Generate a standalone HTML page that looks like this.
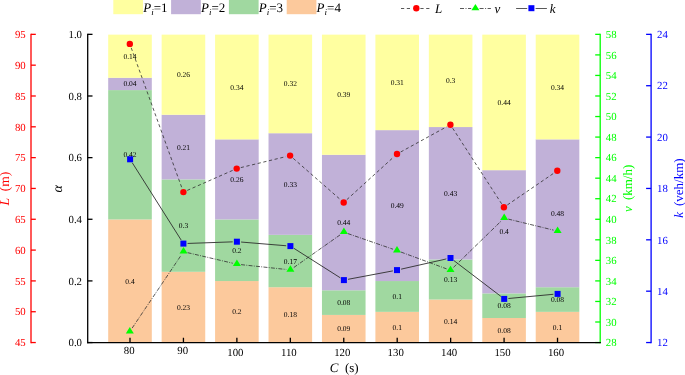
<!DOCTYPE html><html><head><meta charset="utf-8"><style>html,body{margin:0;padding:0;background:#fff}svg{display:block;will-change:transform}text{font-family:"Liberation Serif",serif;text-rendering:geometricPrecision}</style></head><body>
<svg width="685" height="375" viewBox="0 0 685 375">
<rect width="685" height="375" fill="#fff"/>
<rect x="108.20" y="219.45" width="43.60" height="123.20" fill="#FCC99C"/>
<rect x="108.20" y="90.09" width="43.60" height="129.36" fill="#A0D8A0"/>
<rect x="108.20" y="77.77" width="43.60" height="12.32" fill="#C1B1D8"/>
<rect x="108.20" y="34.65" width="43.60" height="43.12" fill="#FFFFA0"/>
<rect x="161.64" y="271.81" width="43.60" height="70.84" fill="#FCC99C"/>
<rect x="161.64" y="179.41" width="43.60" height="92.40" fill="#A0D8A0"/>
<rect x="161.64" y="114.73" width="43.60" height="64.68" fill="#C1B1D8"/>
<rect x="161.64" y="34.65" width="43.60" height="80.08" fill="#FFFFA0"/>
<rect x="215.08" y="281.05" width="43.60" height="61.60" fill="#FCC99C"/>
<rect x="215.08" y="219.45" width="43.60" height="61.60" fill="#A0D8A0"/>
<rect x="215.08" y="139.37" width="43.60" height="80.08" fill="#C1B1D8"/>
<rect x="215.08" y="34.65" width="43.60" height="104.72" fill="#FFFFA0"/>
<rect x="268.52" y="287.21" width="43.60" height="55.44" fill="#FCC99C"/>
<rect x="268.52" y="234.85" width="43.60" height="52.36" fill="#A0D8A0"/>
<rect x="268.52" y="133.21" width="43.60" height="101.64" fill="#C1B1D8"/>
<rect x="268.52" y="34.65" width="43.60" height="98.56" fill="#FFFFA0"/>
<rect x="321.96" y="314.93" width="43.60" height="27.72" fill="#FCC99C"/>
<rect x="321.96" y="290.29" width="43.60" height="24.64" fill="#A0D8A0"/>
<rect x="321.96" y="154.77" width="43.60" height="135.52" fill="#C1B1D8"/>
<rect x="321.96" y="34.65" width="43.60" height="120.12" fill="#FFFFA0"/>
<rect x="375.40" y="311.85" width="43.60" height="30.80" fill="#FCC99C"/>
<rect x="375.40" y="281.05" width="43.60" height="30.80" fill="#A0D8A0"/>
<rect x="375.40" y="130.13" width="43.60" height="150.92" fill="#C1B1D8"/>
<rect x="375.40" y="34.65" width="43.60" height="95.48" fill="#FFFFA0"/>
<rect x="428.84" y="299.53" width="43.60" height="43.12" fill="#FCC99C"/>
<rect x="428.84" y="259.49" width="43.60" height="40.04" fill="#A0D8A0"/>
<rect x="428.84" y="127.05" width="43.60" height="132.44" fill="#C1B1D8"/>
<rect x="428.84" y="34.65" width="43.60" height="92.40" fill="#FFFFA0"/>
<rect x="482.28" y="318.01" width="43.60" height="24.64" fill="#FCC99C"/>
<rect x="482.28" y="293.37" width="43.60" height="24.64" fill="#A0D8A0"/>
<rect x="482.28" y="170.17" width="43.60" height="123.20" fill="#C1B1D8"/>
<rect x="482.28" y="34.65" width="43.60" height="135.52" fill="#FFFFA0"/>
<rect x="535.72" y="311.85" width="43.60" height="30.80" fill="#FCC99C"/>
<rect x="535.72" y="287.21" width="43.60" height="24.64" fill="#A0D8A0"/>
<rect x="535.72" y="139.37" width="43.60" height="147.84" fill="#C1B1D8"/>
<rect x="535.72" y="34.65" width="43.60" height="104.72" fill="#FFFFA0"/>
<text x="130.00" y="283.55" font-size="7.5" text-anchor="middle" fill="#000">0.4</text>
<text x="130.00" y="157.27" font-size="7.5" text-anchor="middle" fill="#000">0.42</text>
<text x="130.00" y="86.43" font-size="7.5" text-anchor="middle" fill="#000">0.04</text>
<text x="130.00" y="58.71" font-size="7.5" text-anchor="middle" fill="#000">0.14</text>
<text x="183.44" y="309.73" font-size="7.5" text-anchor="middle" fill="#000">0.23</text>
<text x="183.44" y="228.11" font-size="7.5" text-anchor="middle" fill="#000">0.3</text>
<text x="183.44" y="149.57" font-size="7.5" text-anchor="middle" fill="#000">0.21</text>
<text x="183.44" y="77.19" font-size="7.5" text-anchor="middle" fill="#000">0.26</text>
<text x="236.88" y="314.35" font-size="7.5" text-anchor="middle" fill="#000">0.2</text>
<text x="236.88" y="252.75" font-size="7.5" text-anchor="middle" fill="#000">0.2</text>
<text x="236.88" y="181.91" font-size="7.5" text-anchor="middle" fill="#000">0.26</text>
<text x="236.88" y="89.51" font-size="7.5" text-anchor="middle" fill="#000">0.34</text>
<text x="290.32" y="317.43" font-size="7.5" text-anchor="middle" fill="#000">0.18</text>
<text x="290.32" y="263.53" font-size="7.5" text-anchor="middle" fill="#000">0.17</text>
<text x="290.32" y="186.53" font-size="7.5" text-anchor="middle" fill="#000">0.33</text>
<text x="290.32" y="86.43" font-size="7.5" text-anchor="middle" fill="#000">0.32</text>
<text x="343.76" y="331.29" font-size="7.5" text-anchor="middle" fill="#000">0.09</text>
<text x="343.76" y="305.11" font-size="7.5" text-anchor="middle" fill="#000">0.08</text>
<text x="343.76" y="225.03" font-size="7.5" text-anchor="middle" fill="#000">0.44</text>
<text x="343.76" y="97.21" font-size="7.5" text-anchor="middle" fill="#000">0.39</text>
<text x="397.20" y="329.75" font-size="7.5" text-anchor="middle" fill="#000">0.1</text>
<text x="397.20" y="298.95" font-size="7.5" text-anchor="middle" fill="#000">0.1</text>
<text x="397.20" y="208.09" font-size="7.5" text-anchor="middle" fill="#000">0.49</text>
<text x="397.20" y="84.89" font-size="7.5" text-anchor="middle" fill="#000">0.31</text>
<text x="450.64" y="323.59" font-size="7.5" text-anchor="middle" fill="#000">0.14</text>
<text x="450.64" y="282.01" font-size="7.5" text-anchor="middle" fill="#000">0.13</text>
<text x="450.64" y="195.77" font-size="7.5" text-anchor="middle" fill="#000">0.43</text>
<text x="450.64" y="83.35" font-size="7.5" text-anchor="middle" fill="#000">0.3</text>
<text x="504.08" y="332.83" font-size="7.5" text-anchor="middle" fill="#000">0.08</text>
<text x="504.08" y="308.19" font-size="7.5" text-anchor="middle" fill="#000">0.08</text>
<text x="504.08" y="234.27" font-size="7.5" text-anchor="middle" fill="#000">0.4</text>
<text x="504.08" y="104.91" font-size="7.5" text-anchor="middle" fill="#000">0.44</text>
<text x="557.52" y="329.75" font-size="7.5" text-anchor="middle" fill="#000">0.1</text>
<text x="557.52" y="302.03" font-size="7.5" text-anchor="middle" fill="#000">0.08</text>
<text x="557.52" y="215.79" font-size="7.5" text-anchor="middle" fill="#000">0.48</text>
<text x="557.52" y="89.51" font-size="7.5" text-anchor="middle" fill="#000">0.34</text>
<line x1="131.23" y1="47.85" x2="181.97" y2="188.15" stroke="#2e2e2e" stroke-width="0.8" stroke-dasharray="3.2 2.6"/>
<line x1="187.24" y1="190.41" x2="232.86" y2="170.29" stroke="#2e2e2e" stroke-width="0.8" stroke-dasharray="3.2 2.6"/>
<line x1="240.78" y1="167.61" x2="286.02" y2="156.59" stroke="#2e2e2e" stroke-width="0.8" stroke-dasharray="3.2 2.6"/>
<line x1="293.26" y1="158.37" x2="340.54" y2="199.73" stroke="#2e2e2e" stroke-width="0.8" stroke-dasharray="3.2 2.6"/>
<line x1="346.81" y1="199.67" x2="393.89" y2="156.83" stroke="#2e2e2e" stroke-width="0.8" stroke-dasharray="3.2 2.6"/>
<line x1="400.68" y1="151.98" x2="446.72" y2="126.72" stroke="#2e2e2e" stroke-width="0.8" stroke-dasharray="3.2 2.6"/>
<line x1="452.68" y1="128.23" x2="501.62" y2="203.77" stroke="#2e2e2e" stroke-width="0.8" stroke-dasharray="3.2 2.6"/>
<line x1="507.37" y1="204.93" x2="553.83" y2="173.17" stroke="#2e2e2e" stroke-width="0.8" stroke-dasharray="3.2 2.6"/>
<line x1="132.14" y1="328.11" x2="181.16" y2="255.19" stroke="#2e2e2e" stroke-width="0.8" stroke-dasharray="4 1.3 0.9 1.3"/>
<line x1="187.59" y1="252.66" x2="232.81" y2="263.24" stroke="#2e2e2e" stroke-width="0.8" stroke-dasharray="4 1.3 0.9 1.3"/>
<line x1="241.08" y1="264.64" x2="286.22" y2="269.46" stroke="#2e2e2e" stroke-width="0.8" stroke-dasharray="4 1.3 0.9 1.3"/>
<line x1="293.83" y1="267.48" x2="340.47" y2="234.62" stroke="#2e2e2e" stroke-width="0.8" stroke-dasharray="4 1.3 0.9 1.3"/>
<line x1="347.87" y1="233.58" x2="393.03" y2="249.22" stroke="#2e2e2e" stroke-width="0.8" stroke-dasharray="4 1.3 0.9 1.3"/>
<line x1="400.94" y1="252.05" x2="446.56" y2="268.85" stroke="#2e2e2e" stroke-width="0.8" stroke-dasharray="4 1.3 0.9 1.3"/>
<line x1="453.51" y1="267.37" x2="501.19" y2="221.03" stroke="#2e2e2e" stroke-width="0.8" stroke-dasharray="4 1.3 0.9 1.3"/>
<line x1="508.28" y1="219.09" x2="553.52" y2="230.11" stroke="#2e2e2e" stroke-width="0.8" stroke-dasharray="4 1.3 0.9 1.3"/>
<line x1="132.34" y1="162.85" x2="181.16" y2="240.05" stroke="#2e2e2e" stroke-width="0.9"/>
<line x1="187.60" y1="243.45" x2="232.70" y2="241.85" stroke="#2e2e2e" stroke-width="0.9"/>
<line x1="241.09" y1="242.04" x2="286.21" y2="245.76" stroke="#2e2e2e" stroke-width="0.9"/>
<line x1="293.94" y1="248.35" x2="340.36" y2="277.85" stroke="#2e2e2e" stroke-width="0.9"/>
<line x1="348.03" y1="279.32" x2="392.87" y2="270.88" stroke="#2e2e2e" stroke-width="0.9"/>
<line x1="401.10" y1="269.17" x2="446.40" y2="258.93" stroke="#2e2e2e" stroke-width="0.9"/>
<line x1="453.84" y1="260.54" x2="500.86" y2="296.36" stroke="#2e2e2e" stroke-width="0.9"/>
<line x1="508.38" y1="298.51" x2="553.42" y2="294.29" stroke="#2e2e2e" stroke-width="0.9"/>
<circle cx="129.80" cy="43.90" r="3.2" fill="#ff0000"/>
<circle cx="183.40" cy="192.10" r="3.2" fill="#ff0000"/>
<circle cx="236.70" cy="168.60" r="3.2" fill="#ff0000"/>
<circle cx="290.10" cy="155.60" r="3.2" fill="#ff0000"/>
<circle cx="343.70" cy="202.50" r="3.2" fill="#ff0000"/>
<circle cx="397.00" cy="154.00" r="3.2" fill="#ff0000"/>
<circle cx="450.40" cy="124.70" r="3.2" fill="#ff0000"/>
<circle cx="503.90" cy="207.30" r="3.2" fill="#ff0000"/>
<circle cx="557.30" cy="170.80" r="3.2" fill="#ff0000"/>
<polygon points="129.80,327.00 133.80,333.40 125.80,333.40" fill="#00ff00"/>
<polygon points="183.50,247.10 187.50,253.50 179.50,253.50" fill="#00ff00"/>
<polygon points="236.90,259.60 240.90,266.00 232.90,266.00" fill="#00ff00"/>
<polygon points="290.40,265.30 294.40,271.70 286.40,271.70" fill="#00ff00"/>
<polygon points="343.90,227.60 347.90,234.00 339.90,234.00" fill="#00ff00"/>
<polygon points="397.00,246.00 401.00,252.40 393.00,252.40" fill="#00ff00"/>
<polygon points="450.50,265.70 454.50,272.10 446.50,272.10" fill="#00ff00"/>
<polygon points="504.20,213.50 508.20,219.90 500.20,219.90" fill="#00ff00"/>
<polygon points="557.60,226.50 561.60,232.90 553.60,232.90" fill="#00ff00"/>
<rect x="127.10" y="156.30" width="6.0" height="6.0" fill="#0000ff"/>
<rect x="180.40" y="240.60" width="6.0" height="6.0" fill="#0000ff"/>
<rect x="233.90" y="238.70" width="6.0" height="6.0" fill="#0000ff"/>
<rect x="287.40" y="243.10" width="6.0" height="6.0" fill="#0000ff"/>
<rect x="340.90" y="277.10" width="6.0" height="6.0" fill="#0000ff"/>
<rect x="394.00" y="267.10" width="6.0" height="6.0" fill="#0000ff"/>
<rect x="447.50" y="255.00" width="6.0" height="6.0" fill="#0000ff"/>
<rect x="501.20" y="295.90" width="6.0" height="6.0" fill="#0000ff"/>
<rect x="554.60" y="290.90" width="6.0" height="6.0" fill="#0000ff"/>
<line x1="87.7" y1="33.7" x2="87.7" y2="343.2" stroke="#000" stroke-width="1.3"/>
<line x1="87.7" y1="342.55" x2="92.5" y2="342.55" stroke="#000" stroke-width="1.3"/>
<line x1="87.7" y1="280.91" x2="92.5" y2="280.91" stroke="#000" stroke-width="1.3"/>
<line x1="87.7" y1="219.27" x2="92.5" y2="219.27" stroke="#000" stroke-width="1.3"/>
<line x1="87.7" y1="157.63" x2="92.5" y2="157.63" stroke="#000" stroke-width="1.3"/>
<line x1="87.7" y1="95.99" x2="92.5" y2="95.99" stroke="#000" stroke-width="1.3"/>
<line x1="87.7" y1="34.35" x2="92.5" y2="34.35" stroke="#000" stroke-width="1.3"/>
<text x="82.0" y="346.25" font-size="10.8" text-anchor="end" fill="#000">0.0</text>
<text x="82.0" y="284.61" font-size="10.8" text-anchor="end" fill="#000">0.2</text>
<text x="82.0" y="222.97" font-size="10.8" text-anchor="end" fill="#000">0.4</text>
<text x="82.0" y="161.33" font-size="10.8" text-anchor="end" fill="#000">0.6</text>
<text x="82.0" y="99.69" font-size="10.8" text-anchor="end" fill="#000">0.8</text>
<text x="82.0" y="38.05" font-size="10.8" text-anchor="end" fill="#000">1.0</text>
<line x1="31.0" y1="33.7" x2="31.0" y2="343.2" stroke="#ff0000" stroke-width="1.3"/>
<line x1="31.0" y1="342.55" x2="35.8" y2="342.55" stroke="#ff0000" stroke-width="1.3"/>
<line x1="31.0" y1="311.73" x2="35.8" y2="311.73" stroke="#ff0000" stroke-width="1.3"/>
<line x1="31.0" y1="280.91" x2="35.8" y2="280.91" stroke="#ff0000" stroke-width="1.3"/>
<line x1="31.0" y1="250.09" x2="35.8" y2="250.09" stroke="#ff0000" stroke-width="1.3"/>
<line x1="31.0" y1="219.27" x2="35.8" y2="219.27" stroke="#ff0000" stroke-width="1.3"/>
<line x1="31.0" y1="188.45" x2="35.8" y2="188.45" stroke="#ff0000" stroke-width="1.3"/>
<line x1="31.0" y1="157.63" x2="35.8" y2="157.63" stroke="#ff0000" stroke-width="1.3"/>
<line x1="31.0" y1="126.81" x2="35.8" y2="126.81" stroke="#ff0000" stroke-width="1.3"/>
<line x1="31.0" y1="95.99" x2="35.8" y2="95.99" stroke="#ff0000" stroke-width="1.3"/>
<line x1="31.0" y1="65.17" x2="35.8" y2="65.17" stroke="#ff0000" stroke-width="1.3"/>
<line x1="31.0" y1="34.35" x2="35.8" y2="34.35" stroke="#ff0000" stroke-width="1.3"/>
<text x="25.7" y="346.25" font-size="10.8" text-anchor="end" fill="#ff0000">45</text>
<text x="25.7" y="315.43" font-size="10.8" text-anchor="end" fill="#ff0000">50</text>
<text x="25.7" y="284.61" font-size="10.8" text-anchor="end" fill="#ff0000">55</text>
<text x="25.7" y="253.79" font-size="10.8" text-anchor="end" fill="#ff0000">60</text>
<text x="25.7" y="222.97" font-size="10.8" text-anchor="end" fill="#ff0000">65</text>
<text x="25.7" y="192.15" font-size="10.8" text-anchor="end" fill="#ff0000">70</text>
<text x="25.7" y="161.33" font-size="10.8" text-anchor="end" fill="#ff0000">75</text>
<text x="25.7" y="130.51" font-size="10.8" text-anchor="end" fill="#ff0000">80</text>
<text x="25.7" y="99.69" font-size="10.8" text-anchor="end" fill="#ff0000">85</text>
<text x="25.7" y="68.87" font-size="10.8" text-anchor="end" fill="#ff0000">90</text>
<text x="25.7" y="38.05" font-size="10.8" text-anchor="end" fill="#ff0000">95</text>
<line x1="600.2" y1="33.7" x2="600.2" y2="343.2" stroke="#00ff00" stroke-width="1.3"/>
<line x1="600.2" y1="342.55" x2="595.2" y2="342.55" stroke="#00ff00" stroke-width="1.3"/>
<line x1="600.2" y1="322.00" x2="595.2" y2="322.00" stroke="#00ff00" stroke-width="1.3"/>
<line x1="600.2" y1="301.46" x2="595.2" y2="301.46" stroke="#00ff00" stroke-width="1.3"/>
<line x1="600.2" y1="280.91" x2="595.2" y2="280.91" stroke="#00ff00" stroke-width="1.3"/>
<line x1="600.2" y1="260.36" x2="595.2" y2="260.36" stroke="#00ff00" stroke-width="1.3"/>
<line x1="600.2" y1="239.82" x2="595.2" y2="239.82" stroke="#00ff00" stroke-width="1.3"/>
<line x1="600.2" y1="219.27" x2="595.2" y2="219.27" stroke="#00ff00" stroke-width="1.3"/>
<line x1="600.2" y1="198.72" x2="595.2" y2="198.72" stroke="#00ff00" stroke-width="1.3"/>
<line x1="600.2" y1="178.18" x2="595.2" y2="178.18" stroke="#00ff00" stroke-width="1.3"/>
<line x1="600.2" y1="157.63" x2="595.2" y2="157.63" stroke="#00ff00" stroke-width="1.3"/>
<line x1="600.2" y1="137.08" x2="595.2" y2="137.08" stroke="#00ff00" stroke-width="1.3"/>
<line x1="600.2" y1="116.54" x2="595.2" y2="116.54" stroke="#00ff00" stroke-width="1.3"/>
<line x1="600.2" y1="95.99" x2="595.2" y2="95.99" stroke="#00ff00" stroke-width="1.3"/>
<line x1="600.2" y1="75.44" x2="595.2" y2="75.44" stroke="#00ff00" stroke-width="1.3"/>
<line x1="600.2" y1="54.90" x2="595.2" y2="54.90" stroke="#00ff00" stroke-width="1.3"/>
<line x1="600.2" y1="34.35" x2="595.2" y2="34.35" stroke="#00ff00" stroke-width="1.3"/>
<text x="605.8" y="346.25" font-size="10.8" fill="#00ff00">28</text>
<text x="605.8" y="325.70" font-size="10.8" fill="#00ff00">30</text>
<text x="605.8" y="305.16" font-size="10.8" fill="#00ff00">32</text>
<text x="605.8" y="284.61" font-size="10.8" fill="#00ff00">34</text>
<text x="605.8" y="264.06" font-size="10.8" fill="#00ff00">36</text>
<text x="605.8" y="243.52" font-size="10.8" fill="#00ff00">38</text>
<text x="605.8" y="222.97" font-size="10.8" fill="#00ff00">40</text>
<text x="605.8" y="202.42" font-size="10.8" fill="#00ff00">42</text>
<text x="605.8" y="181.88" font-size="10.8" fill="#00ff00">44</text>
<text x="605.8" y="161.33" font-size="10.8" fill="#00ff00">46</text>
<text x="605.8" y="140.78" font-size="10.8" fill="#00ff00">48</text>
<text x="605.8" y="120.24" font-size="10.8" fill="#00ff00">50</text>
<text x="605.8" y="99.69" font-size="10.8" fill="#00ff00">52</text>
<text x="605.8" y="79.14" font-size="10.8" fill="#00ff00">54</text>
<text x="605.8" y="58.60" font-size="10.8" fill="#00ff00">56</text>
<text x="605.8" y="38.05" font-size="10.8" fill="#00ff00">58</text>
<line x1="651.1" y1="33.7" x2="651.1" y2="343.2" stroke="#0000ff" stroke-width="1.3"/>
<line x1="651.1" y1="342.55" x2="646.1" y2="342.55" stroke="#0000ff" stroke-width="1.3"/>
<line x1="651.1" y1="291.18" x2="646.1" y2="291.18" stroke="#0000ff" stroke-width="1.3"/>
<line x1="651.1" y1="239.82" x2="646.1" y2="239.82" stroke="#0000ff" stroke-width="1.3"/>
<line x1="651.1" y1="188.45" x2="646.1" y2="188.45" stroke="#0000ff" stroke-width="1.3"/>
<line x1="651.1" y1="137.08" x2="646.1" y2="137.08" stroke="#0000ff" stroke-width="1.3"/>
<line x1="651.1" y1="85.72" x2="646.1" y2="85.72" stroke="#0000ff" stroke-width="1.3"/>
<line x1="651.1" y1="34.35" x2="646.1" y2="34.35" stroke="#0000ff" stroke-width="1.3"/>
<text x="657.0" y="346.25" font-size="10.8" fill="#0000ff">12</text>
<text x="657.0" y="294.88" font-size="10.8" fill="#0000ff">14</text>
<text x="657.0" y="243.52" font-size="10.8" fill="#0000ff">16</text>
<text x="657.0" y="192.15" font-size="10.8" fill="#0000ff">18</text>
<text x="657.0" y="140.78" font-size="10.8" fill="#0000ff">20</text>
<text x="657.0" y="89.42" font-size="10.8" fill="#0000ff">22</text>
<text x="657.0" y="38.05" font-size="10.8" fill="#0000ff">24</text>
<line x1="87.05" y1="342.55" x2="600.85" y2="342.55" stroke="#000" stroke-width="1.3"/>
<line x1="130.00" y1="342.55" x2="130.00" y2="337.75" stroke="#000" stroke-width="1.3"/>
<text x="129.20" y="353.9" font-size="10.8" text-anchor="middle" fill="#000">80</text>
<line x1="183.44" y1="342.55" x2="183.44" y2="337.75" stroke="#000" stroke-width="1.3"/>
<text x="182.64" y="353.9" font-size="10.8" text-anchor="middle" fill="#000">90</text>
<line x1="236.88" y1="342.55" x2="236.88" y2="337.75" stroke="#000" stroke-width="1.3"/>
<text x="235.38" y="355.6" font-size="10.8" text-anchor="middle" fill="#000">100</text>
<line x1="290.32" y1="342.55" x2="290.32" y2="337.75" stroke="#000" stroke-width="1.3"/>
<text x="288.82" y="355.6" font-size="10.8" text-anchor="middle" fill="#000">110</text>
<line x1="343.76" y1="342.55" x2="343.76" y2="337.75" stroke="#000" stroke-width="1.3"/>
<text x="342.26" y="355.6" font-size="10.8" text-anchor="middle" fill="#000">120</text>
<line x1="397.20" y1="342.55" x2="397.20" y2="337.75" stroke="#000" stroke-width="1.3"/>
<text x="395.70" y="355.6" font-size="10.8" text-anchor="middle" fill="#000">130</text>
<line x1="450.64" y1="342.55" x2="450.64" y2="337.75" stroke="#000" stroke-width="1.3"/>
<text x="449.14" y="355.6" font-size="10.8" text-anchor="middle" fill="#000">140</text>
<line x1="504.08" y1="342.55" x2="504.08" y2="337.75" stroke="#000" stroke-width="1.3"/>
<text x="502.58" y="355.6" font-size="10.8" text-anchor="middle" fill="#000">150</text>
<line x1="557.52" y1="342.55" x2="557.52" y2="337.75" stroke="#000" stroke-width="1.3"/>
<text x="556.02" y="355.6" font-size="10.8" text-anchor="middle" fill="#000">160</text>
<text x="344.2" y="372.2" font-size="13" text-anchor="middle" fill="#000" word-spacing="3.3"><tspan font-style="italic">C</tspan> (s)</text>
<text transform="translate(9.4,188.6) rotate(-90)" font-size="13.6" text-anchor="middle" fill="#ff0000" word-spacing="3.3"><tspan font-style="italic">L</tspan> (m)</text>
<text transform="translate(62.3,188.8) rotate(-90)" font-size="14" text-anchor="middle" fill="#000" font-style="italic">α</text>
<text transform="translate(632,188.3) rotate(-90)" font-size="13" text-anchor="middle" fill="#00ff00" word-spacing="2.8"><tspan font-style="italic">v</tspan> (km/h)</text>
<text transform="translate(682.5,188.1) rotate(-90)" font-size="13" text-anchor="middle" fill="#0000ff" word-spacing="2.8"><tspan font-style="italic">k</tspan> (veh/km)</text>
<rect x="113.30" y="0" width="29.7" height="14.2" fill="#FFFFA0"/>
<text x="143.20" y="11.8" font-size="13" fill="#000"><tspan font-style="italic">P</tspan><tspan font-style="italic" font-size="9" dy="3.6">i</tspan><tspan dy="-3.6">=1</tspan></text>
<rect x="171.10" y="0" width="29.7" height="14.2" fill="#C1B1D8"/>
<text x="201.00" y="11.8" font-size="13" fill="#000"><tspan font-style="italic">P</tspan><tspan font-style="italic" font-size="9" dy="3.6">i</tspan><tspan dy="-3.6">=2</tspan></text>
<rect x="228.90" y="0" width="29.7" height="14.2" fill="#A0D8A0"/>
<text x="258.80" y="11.8" font-size="13" fill="#000"><tspan font-style="italic">P</tspan><tspan font-style="italic" font-size="9" dy="3.6">i</tspan><tspan dy="-3.6">=3</tspan></text>
<rect x="286.70" y="0" width="29.7" height="14.2" fill="#FCC99C"/>
<text x="316.60" y="11.8" font-size="13" fill="#000"><tspan font-style="italic">P</tspan><tspan font-style="italic" font-size="9" dy="3.6">i</tspan><tspan dy="-3.6">=4</tspan></text>
<line x1="401" y1="8.5" x2="412.2" y2="8.5" stroke="#2e2e2e" stroke-width="0.8" stroke-dasharray="3.2 2.6"/>
<line x1="420.4" y1="8.5" x2="430.7" y2="8.5" stroke="#2e2e2e" stroke-width="0.8" stroke-dasharray="3.2 2.6"/>
<circle cx="416.30" cy="8.20" r="3.2" fill="#ff0000"/>
<text x="435" y="12.6" font-size="13" font-style="italic" fill="#000">L</text>
<line x1="460" y1="8.5" x2="471.2" y2="8.5" stroke="#2e2e2e" stroke-width="0.8" stroke-dasharray="4 1.5 1 1.5"/>
<line x1="479.6" y1="8.5" x2="490.9" y2="8.5" stroke="#2e2e2e" stroke-width="0.8" stroke-dasharray="4 1.5 1 1.5"/>
<polygon points="475.40,3.90 479.40,10.30 471.40,10.30" fill="#00ff00"/>
<text x="494.6" y="12.6" font-size="13" font-style="italic" fill="#000">v</text>
<line x1="516.1" y1="8.5" x2="527.2" y2="8.5" stroke="#2e2e2e" stroke-width="0.8"/>
<line x1="535.6" y1="8.5" x2="546.9" y2="8.5" stroke="#2e2e2e" stroke-width="0.8"/>
<rect x="528.40" y="5.20" width="6.0" height="6.0" fill="#0000ff"/>
<text x="549.7" y="12.6" font-size="13" font-style="italic" fill="#000">k</text>
</svg></body></html>
